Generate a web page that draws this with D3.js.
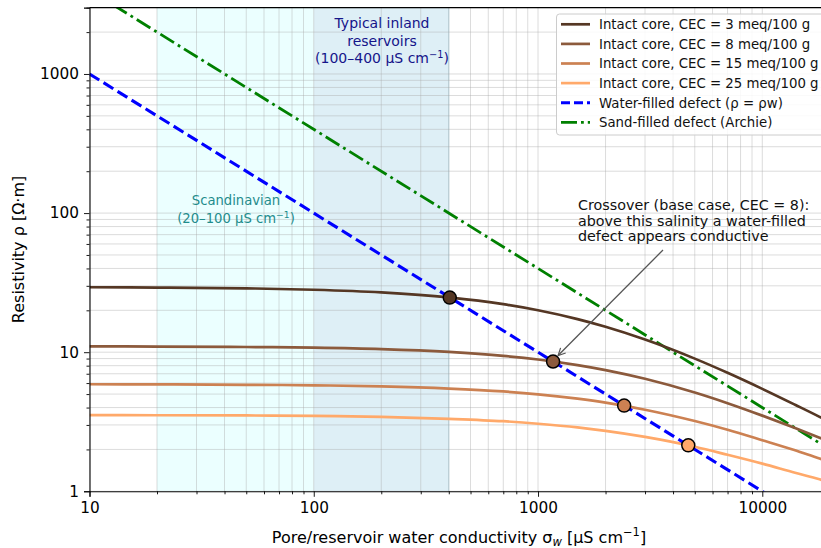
<!DOCTYPE html>
<html>
<head>
<meta charset="utf-8">
<script src="https://cdn.jsdelivr.net/npm/d3@7"></script>
<style>
  body { margin: 0; background: #fff; }
  svg { display: block; font-family: "DejaVu Sans", sans-serif; }
</style>
</head>
<body>
<div id="container"></div>
<script>
const width = 821,
  height = 548

/* DATA */
const sigma = [10, 20, 50, 100, 200, 400, 700, 1000, 1500, 2000, 3000, 5000, 7000, 10000, 14000, 18000, 20000]
const cec3 = [29.30, 29.16, 28.76, 28.10, 26.89, 24.75, 22.13, 20.02, 17.29, 15.23, 12.33, 8.99, 7.11, 5.45, 4.19, 3.43, 3.14]
const cec8 = [11.01, 10.98, 10.90, 10.77, 10.52, 10.04, 9.41, 8.86, 8.08, 7.44, 6.44, 5.13, 4.30, 3.50, 2.85, 2.43, 2.27]
const cec15 = [5.88, 5.87, 5.83, 5.78, 5.68, 5.48, 5.22, 4.98, 4.63, 4.34, 3.86, 3.20, 2.77, 2.33, 1.97, 1.72, 1.63]
const cec25 = [3.53, 3.52, 3.51, 3.48, 3.43, 3.32, 3.19, 3.06, 2.88, 2.72, 2.46, 2.09, 1.83, 1.58, 1.36, 1.22, 1.16]

const lineSigma = [10, 20000]
const waterRho = [1000, 0.5]
const sandRho = [4000, 2]

const crossSigma = [404, 1167, 2421, 4677]
const crossRho = [24.7, 8.57, 4.13, 2.14]

const coreLabels = ["Intact core, CEC = 3 meq/100 g", "Intact core, CEC = 8 meq/100 g",
  "Intact core, CEC = 15 meq/100 g", "Intact core, CEC = 25 meq/100 g"]
const coreColors = ["#553724", "#8c5a3c", "#cc8152", "#ffa96a"]

const scandiBand = [20, 100]
const inlandBand = [100, 400]

const xTicks = [10, 100, 1000, 10000]
const yTicks = [1, 10, 100, 1000]

/* SCALES */
const pLeft = 89.5, pRight = 829.8, pTop = 7.6, pBottom = 491.3
const xScale = d3.scaleLog().domain([10, 20000]).range([pLeft, pRight])
const yScale = d3.scaleLog().domain([1, 3000]).range([pBottom, pTop])

const svg = d3.select("#container").append("svg")
  .attr("width", width)
  .attr("height", height)

const defs = svg.append("defs")
defs.append("clipPath").attr("id", "plot")
  .append("rect").attr("x", pLeft).attr("y", pTop)
  .attr("width", pRight - pLeft).attr("height", pBottom - pTop)

defs.append("marker")
  .attr("id", "arrow").attr("viewBox", "0 0 10 10")
  .attr("refX", 9).attr("refY", 5)
  .attr("markerWidth", 9).attr("markerHeight", 9)
  .attr("markerUnits", "userSpaceOnUse")
  .attr("orient", "auto")
  .append("path").attr("d", "M1,1 L9,5 L1,9").attr("fill", "none")
  .attr("stroke", "#555").attr("stroke-width", 1.3)

const plot = svg.append("g").attr("clip-path", "url(#plot)")

// shaded ranges
plot.append("rect")
  .attr("x", xScale(scandiBand[0])).attr("y", pTop)
  .attr("width", xScale(scandiBand[1]) - xScale(scandiBand[0]))
  .attr("height", pBottom - pTop)
  .attr("fill", "#ebffff")
plot.append("rect")
  .attr("x", xScale(inlandBand[0])).attr("y", pTop)
  .attr("width", xScale(inlandBand[1]) - xScale(inlandBand[0]))
  .attr("height", pBottom - pTop)
  .attr("fill", "#deeff6")
plot.append("line")
  .attr("x1", xScale(inlandBand[1])).attr("x2", xScale(inlandBand[1]))
  .attr("y1", pTop).attr("y2", pBottom)
  .attr("stroke", "#b9d7e4").attr("stroke-width", 1)

// grid (major + minor)
const xGrid = []
for (let d = 10; d <= 10000; d *= 10) for (let m = 1; m <= 9; m++) if (d * m <= 20000) xGrid.push(d * m)
const yGrid = []
for (let d = 1; d <= 1000; d *= 10) for (let m = 1; m <= 9; m++) if (d * m <= 3000) yGrid.push(d * m)

plot.selectAll("line.xgrid").data(xGrid).join("line")
  .attr("class", "xgrid")
  .attr("x1", d => xScale(d)).attr("x2", d => xScale(d))
  .attr("y1", pTop).attr("y2", pBottom)
  .attr("stroke", "#a8a8a8").attr("stroke-opacity", 0.4).attr("stroke-width", 1)
plot.selectAll("line.ygrid").data(yGrid).join("line")
  .attr("class", "ygrid")
  .attr("y1", d => yScale(d)).attr("y2", d => yScale(d))
  .attr("x1", pLeft).attr("x2", pRight)
  .attr("stroke", "#a8a8a8").attr("stroke-opacity", 0.4).attr("stroke-width", 1)

// band labels
const inlandText = svg.append("text")
  .attr("text-anchor", "middle").attr("fill", "#15158a").attr("font-size", "14px")
inlandText.append("tspan").attr("x", 382).attr("y", 28).text("Typical inland")
inlandText.append("tspan").attr("x", 382).attr("y", 45.5).text("reservoirs")
inlandText.append("tspan").attr("x", 382).attr("y", 63).text("(100–400 μS cm")
inlandText.append("tspan").attr("dy", -5.5).attr("font-size", "9.8px").text("−1")
inlandText.append("tspan").attr("dy", 5.5).text(")")

const scandiText = svg.append("text")
  .attr("text-anchor", "middle").attr("fill", "#1f8c8c").attr("font-size", "13.2px")
scandiText.append("tspan").attr("x", 236).attr("y", 205).text("Scandinavian")
scandiText.append("tspan").attr("x", 236).attr("y", 222.5).text("(20–100 μS cm")
scandiText.append("tspan").attr("dy", -5).attr("font-size", "9.2px").text("−1")
scandiText.append("tspan").attr("dy", 5).text(")")

// lines
const line = d3.line()
  .x(d => xScale(d[0]))
  .y(d => yScale(d[1]))
  .curve(d3.curveMonotoneX)

const cores = [cec3, cec8, cec15, cec25]

plot.append("path")
  .datum(lineSigma.map((s, i) => [s, sandRho[i]]))
  .attr("d", line).attr("fill", "none")
  .attr("stroke", "#008000").attr("stroke-width", 2.8)
  .attr("stroke-dasharray", "16,4.5,2.8,4.5")

cores.forEach((c, i) => {
  plot.append("path")
    .datum(sigma.map((s, j) => [s, c[j]]))
    .attr("d", line).attr("fill", "none")
    .attr("stroke", coreColors[i]).attr("stroke-width", 2.7)
})

plot.append("path")
  .datum(lineSigma.map((s, i) => [s, waterRho[i]]))
  .attr("d", line).attr("fill", "none")
  .attr("stroke", "#0000ff").attr("stroke-width", 3.1)
  .attr("stroke-dasharray", "11.5,5")

// crossover markers
svg.selectAll("circle.cross").data(crossSigma).join("circle")
  .attr("class", "cross")
  .attr("cx", d => xScale(d))
  .attr("cy", (d, i) => yScale(crossRho[i]))
  .attr("r", 6.5)
  .attr("fill", (d, i) => coreColors[i])
  .attr("stroke", "#000").attr("stroke-width", 1.5)

// annotation
const ann = svg.append("text").attr("font-size", "14.3px").attr("fill", "#111")
ann.append("tspan").attr("x", 578).attr("y", 210).text("Crossover (base case, CEC = 8):")
ann.append("tspan").attr("x", 578).attr("y", 225.5).text("above this salinity a water-filled")
ann.append("tspan").attr("x", 578).attr("y", 241).text("defect appears conductive")

svg.append("line")
  .attr("x1", 663).attr("y1", 250)
  .attr("x2", xScale(crossSigma[1]) + 5).attr("y2", yScale(crossRho[1]) - 6)
  .attr("stroke", "#555").attr("stroke-width", 1.3)
  .attr("marker-end", "url(#arrow)")

/* AXES */
const tickFont = "15.3px"
const xAxis = d3.axisBottom(xScale).tickValues(xTicks).tickFormat(d3.format("d")).tickSize(5.5).tickPadding(5)
const xMinor = d3.axisBottom(xScale).tickValues(xGrid.filter(d => !xTicks.includes(d))).tickFormat("").tickSize(3)
const yAxis = d3.axisLeft(yScale).tickValues(yTicks).tickFormat(d3.format("d")).tickSize(5.5).tickPadding(5)
const yMinor = d3.axisLeft(yScale).tickValues(yGrid.filter(d => !yTicks.includes(d))).tickFormat("").tickSize(3)

svg.append("g").attr("class", "x-axis")
  .attr("transform", `translate(0,${pBottom})`)
  .call(xAxis)
svg.append("g").attr("class", "x-minor")
  .attr("transform", `translate(0,${pBottom})`)
  .call(xMinor)
svg.append("g").attr("class", "y-axis")
  .attr("transform", `translate(${pLeft},0)`)
  .call(yAxis)
svg.append("g").attr("class", "y-minor")
  .attr("transform", `translate(${pLeft},0)`)
  .call(yMinor)

svg.selectAll(".x-axis text, .y-axis text")
  .attr("font-size", tickFont).attr("fill", "#000")
  .attr("font-family", "DejaVu Sans, sans-serif")
svg.selectAll(".x-axis .domain, .y-axis .domain").attr("stroke", "#000").attr("stroke-width", 1.1)
svg.selectAll(".x-minor .domain, .y-minor .domain").remove()
svg.selectAll(".tick line").attr("stroke", "#000").attr("stroke-width", 0.9)

// top spine
svg.append("line")
  .attr("x1", pLeft).attr("x2", pRight).attr("y1", pTop).attr("y2", pTop)
  .attr("stroke", "#000").attr("stroke-width", 1.1)

// axis labels
const xLabel = svg.append("text")
  .attr("x", 459).attr("y", 543)
  .attr("text-anchor", "middle").attr("font-size", "16px")
xLabel.append("tspan").text("Pore/reservoir water conductivity σ")
xLabel.append("tspan").attr("font-style", "italic").attr("font-size", "11.5px").attr("dy", 3).text("w")
xLabel.append("tspan").attr("dy", -3).text(" [μS cm")
xLabel.append("tspan").attr("font-size", "11.5px").attr("dy", -7).text("−1")
xLabel.append("tspan").attr("dy", 7).text("]")

svg.append("text")
  .attr("transform", `translate(24,${(pTop + pBottom) / 2}) rotate(-90)`)
  .attr("text-anchor", "middle").attr("font-size", "16px")
  .text("Resistivity ρ [Ω·m]")

/* LEGEND */
const legend = svg.append("g")
legend.append("rect")
  .attr("x", 556.5).attr("y", 14).attr("width", 280).attr("height", 121)
  .attr("rx", 3).attr("fill", "#fff").attr("fill-opacity", 0.85)
  .attr("stroke", "#cccccc").attr("stroke-width", 1)

const legendItems = coreLabels.map((l, i) => ({ label: l, color: coreColors[i], dash: null, w: 2.7 }))
legendItems.push({ label: "Water-filled defect (ρ = ρw)", color: "#0000ff", dash: "9,4", w: 3.1 })
legendItems.push({ label: "Sand-filled defect (Archie)", color: "#008000", dash: "16,4,2.8,4", w: 2.8 })

legendItems.forEach((d, i) => {
  const y = 24.3 + i * 19.6
  legend.append("line")
    .attr("x1", 561).attr("x2", 590).attr("y1", y).attr("y2", y)
    .attr("stroke", d.color).attr("stroke-width", d.w)
    .attr("stroke-dasharray", d.dash)
  legend.append("text")
    .attr("x", 599).attr("y", y + 4.9)
    .attr("font-size", "13.3px").attr("fill", "#111")
    .text(d.label)
})
</script>
</body>
</html>
